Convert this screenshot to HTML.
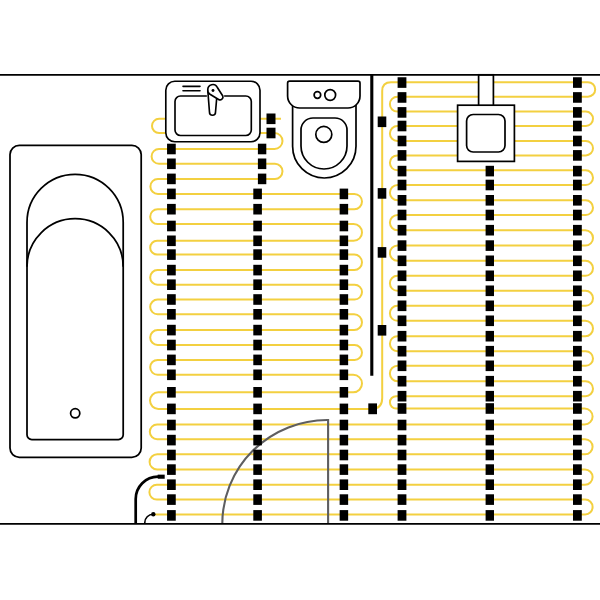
<!DOCTYPE html><html><head><meta charset="utf-8"><title>Floor heating plan</title><style>html,body{margin:0;padding:0;background:#fff}svg{display:block}</style></head><body><svg width="600" height="600" viewBox="0 0 600 600"><rect width="600" height="600" fill="#fff"/><g fill="none" stroke="#F3D040" stroke-width="2" stroke-linejoin="round"><path d="M281 118.8H159.1A7.1 7.1 0 0 0 159.1 133H274.5A8 8 0 0 1 274.5 149H159A7.4 7.4 0 0 0 159 163.8H274.95A7.55 7.55 0 0 1 274.95 178.9H157.9A7.5 7.5 0 0 0 157.9 193.9H354.35A7.65 7.65 0 0 1 354.35 209.2H157.65A7.45 7.45 0 0 0 157.65 224.1H353.65A8.35 8.35 0 0 1 353.65 240.8H157.1A6.9 6.9 0 0 0 157.1 254.6H354.25A7.75 7.75 0 0 1 354.25 270.1H157.5A7.3 7.3 0 0 0 157.5 284.7H354.6A7.4 7.4 0 0 1 354.6 299.5H157.6A7.4 7.4 0 0 0 157.6 314.3H354.1A7.9 7.9 0 0 1 354.1 330.1H157.65A7.45 7.45 0 0 0 157.65 345H354.55A7.45 7.45 0 0 1 354.55 359.9H157.65A7.45 7.45 0 0 0 157.65 374.8H353.25A8.75 8.75 0 0 1 353.25 392.3H158.3A8.3 8.3 0 0 0 158.3 408.9H372"/><path d="M372 408.8 Q382.2 408.8 382.2 398 V91 Q382.2 82.2 391 82.2H587.95A7.25 7.25 0 0 1 587.95 96.7H397.35A7.45 7.45 0 0 0 397.35 111.6H585.8A7.2 7.2 0 0 1 585.8 126H397.4A7.5 7.5 0 0 0 397.4 141H585.8A7.2 7.2 0 0 1 585.8 155.4H397.35A7.45 7.45 0 0 0 397.35 170.3H585.65A7.35 7.35 0 0 1 585.65 185H397.55A7.65 7.65 0 0 0 397.55 200.3H585.65A7.35 7.35 0 0 1 585.65 215H397.5A7.6 7.6 0 0 0 397.5 230.2H585.3A7.7 7.7 0 0 1 585.3 245.6H397.5A7.6 7.6 0 0 0 397.5 260.8H585.5A7.5 7.5 0 0 1 585.5 275.8H397.4A7.5 7.5 0 0 0 397.4 290.8H585.5A7.5 7.5 0 0 1 585.5 305.8H397.4A7.5 7.5 0 0 0 397.4 320.8H585.3A7.7 7.7 0 0 1 585.3 336.2H397.4A7.5 7.5 0 0 0 397.4 351.2H585.7A7.3 7.3 0 0 1 585.7 365.8H397.6A7.7 7.7 0 0 0 397.6 381.2H585.5A7.5 7.5 0 0 1 585.5 396.2H396.05A6.15 6.15 0 0 0 396.05 408.5H584.6A8 8 0 0 1 584.6 424.5H157.15A7.35 7.35 0 0 0 157.15 439.2H585.05A7.55 7.55 0 0 1 585.05 454.3H157.2A7.6 7.6 0 0 0 157.2 469.5H585A7.6 7.6 0 0 1 585 484.7H156.85A7.45 7.45 0 0 0 156.85 499.6H585.2A7.4 7.4 0 0 1 585.2 514.4H153.5"/></g><path d="M328.1 523.8V420H327A105.2 103.8 0 0 0 222.3 523.8" fill="none" stroke="#5e5e60" stroke-width="2.1"/><g fill="#000"><rect x="167.05" y="143.7" width="8.7" height="10.6"/><rect x="167.05" y="158.5" width="8.7" height="10.6"/><rect x="167.05" y="173.6" width="8.7" height="10.6"/><rect x="167.05" y="188.6" width="8.7" height="10.6"/><rect x="167.05" y="203.9" width="8.7" height="10.6"/><rect x="167.05" y="220.7" width="8.7" height="10.6"/><rect x="167.05" y="235.5" width="8.7" height="10.6"/><rect x="167.05" y="249.3" width="8.7" height="10.6"/><rect x="167.05" y="264.8" width="8.7" height="10.6"/><rect x="167.05" y="279.4" width="8.7" height="10.6"/><rect x="167.05" y="294.2" width="8.7" height="10.6"/><rect x="167.05" y="309" width="8.7" height="10.6"/><rect x="167.05" y="324.8" width="8.7" height="10.6"/><rect x="167.05" y="339.7" width="8.7" height="10.6"/><rect x="167.05" y="354.6" width="8.7" height="10.6"/><rect x="167.05" y="369.5" width="8.7" height="10.6"/><rect x="167.05" y="387" width="8.7" height="10.6"/><rect x="167.05" y="403.6" width="8.7" height="10.6"/><rect x="167.05" y="419.7" width="8.7" height="10.6"/><rect x="167.05" y="434.8" width="8.7" height="10.6"/><rect x="167.05" y="449.7" width="8.7" height="10.6"/><rect x="167.05" y="464.3" width="8.7" height="10.6"/><rect x="167.05" y="479.4" width="8.7" height="10.6"/><rect x="167.05" y="494.3" width="8.7" height="10.6"/><rect x="167.05" y="510.1" width="8.7" height="10.6"/><rect x="257.9" y="143.7" width="8.4" height="10.6"/><rect x="257.9" y="158.5" width="8.4" height="10.6"/><rect x="257.9" y="173.6" width="8.4" height="10.6"/><rect x="266.5" y="113.5" width="9" height="10.6"/><rect x="266.5" y="127.7" width="9" height="10.6"/><rect x="253.3" y="188.6" width="8.6" height="10.6"/><rect x="253.3" y="203.9" width="8.6" height="10.6"/><rect x="253.3" y="220.7" width="8.6" height="10.6"/><rect x="253.3" y="235.5" width="8.6" height="10.6"/><rect x="253.3" y="249.3" width="8.6" height="10.6"/><rect x="253.3" y="264.8" width="8.6" height="10.6"/><rect x="253.3" y="279.4" width="8.6" height="10.6"/><rect x="253.3" y="294.2" width="8.6" height="10.6"/><rect x="253.3" y="309" width="8.6" height="10.6"/><rect x="253.3" y="324.8" width="8.6" height="10.6"/><rect x="253.3" y="339.7" width="8.6" height="10.6"/><rect x="253.3" y="354.6" width="8.6" height="10.6"/><rect x="253.3" y="369.5" width="8.6" height="10.6"/><rect x="253.3" y="387" width="8.6" height="10.6"/><rect x="253.3" y="403.6" width="8.6" height="10.6"/><rect x="253.3" y="419.7" width="8.6" height="10.6"/><rect x="253.3" y="434.8" width="8.6" height="10.6"/><rect x="253.3" y="449.7" width="8.6" height="10.6"/><rect x="253.3" y="464.3" width="8.6" height="10.6"/><rect x="253.3" y="479.4" width="8.6" height="10.6"/><rect x="253.3" y="494.3" width="8.6" height="10.6"/><rect x="253.3" y="510.1" width="8.6" height="10.6"/><rect x="339.65" y="188.6" width="8.5" height="10.6"/><rect x="339.65" y="203.9" width="8.5" height="10.6"/><rect x="339.65" y="220.7" width="8.5" height="10.6"/><rect x="339.65" y="235.5" width="8.5" height="10.6"/><rect x="339.65" y="249.3" width="8.5" height="10.6"/><rect x="339.65" y="264.8" width="8.5" height="10.6"/><rect x="339.65" y="279.4" width="8.5" height="10.6"/><rect x="339.65" y="294.2" width="8.5" height="10.6"/><rect x="339.65" y="309" width="8.5" height="10.6"/><rect x="339.65" y="324.8" width="8.5" height="10.6"/><rect x="339.65" y="339.7" width="8.5" height="10.6"/><rect x="339.65" y="354.6" width="8.5" height="10.6"/><rect x="339.65" y="369.5" width="8.5" height="10.6"/><rect x="339.65" y="387" width="8.5" height="10.6"/><rect x="339.65" y="403.6" width="8.5" height="10.6"/><rect x="339.65" y="419.7" width="8.5" height="10.6"/><rect x="339.65" y="434.8" width="8.5" height="10.6"/><rect x="339.65" y="449.7" width="8.5" height="10.6"/><rect x="339.65" y="464.3" width="8.5" height="10.6"/><rect x="339.65" y="479.4" width="8.5" height="10.6"/><rect x="339.65" y="494.3" width="8.5" height="10.6"/><rect x="339.65" y="510.1" width="8.5" height="10.6"/><rect x="397.6" y="77.25" width="8.8" height="10.6"/><rect x="397.6" y="92.15" width="8.8" height="10.6"/><rect x="397.6" y="107.1" width="8.8" height="10.6"/><rect x="397.6" y="120.7" width="8.8" height="10.6"/><rect x="397.6" y="135.7" width="8.8" height="10.6"/><rect x="397.6" y="150.1" width="8.8" height="10.6"/><rect x="397.6" y="165.8" width="8.8" height="10.6"/><rect x="397.6" y="179.7" width="8.8" height="10.6"/><rect x="397.6" y="195" width="8.8" height="10.6"/><rect x="397.6" y="209.7" width="8.8" height="10.6"/><rect x="397.6" y="224.9" width="8.8" height="10.6"/><rect x="397.6" y="240.3" width="8.8" height="10.6"/><rect x="397.6" y="255.5" width="8.8" height="10.6"/><rect x="397.6" y="270.5" width="8.8" height="10.6"/><rect x="397.6" y="285.5" width="8.8" height="10.6"/><rect x="397.6" y="300.5" width="8.8" height="10.6"/><rect x="397.6" y="315.5" width="8.8" height="10.6"/><rect x="397.6" y="330.9" width="8.8" height="10.6"/><rect x="397.6" y="345.9" width="8.8" height="10.6"/><rect x="397.6" y="360.5" width="8.8" height="10.6"/><rect x="397.6" y="375.9" width="8.8" height="10.6"/><rect x="397.6" y="390.9" width="8.8" height="10.6"/><rect x="397.6" y="403.2" width="8.8" height="10.6"/><rect x="397.6" y="419.7" width="8.8" height="10.6"/><rect x="397.6" y="434.8" width="8.8" height="10.6"/><rect x="397.6" y="449.7" width="8.8" height="10.6"/><rect x="397.6" y="464.3" width="8.8" height="10.6"/><rect x="397.6" y="479.4" width="8.8" height="10.6"/><rect x="397.6" y="494.3" width="8.8" height="10.6"/><rect x="397.6" y="510.1" width="8.8" height="10.6"/><rect x="485.6" y="165.8" width="8.4" height="10.6"/><rect x="485.6" y="179.7" width="8.4" height="10.6"/><rect x="485.6" y="195" width="8.4" height="10.6"/><rect x="485.6" y="209.7" width="8.4" height="10.6"/><rect x="485.6" y="224.9" width="8.4" height="10.6"/><rect x="485.6" y="240.3" width="8.4" height="10.6"/><rect x="485.6" y="255.5" width="8.4" height="10.6"/><rect x="485.6" y="270.5" width="8.4" height="10.6"/><rect x="485.6" y="285.5" width="8.4" height="10.6"/><rect x="485.6" y="300.5" width="8.4" height="10.6"/><rect x="485.6" y="315.5" width="8.4" height="10.6"/><rect x="485.6" y="330.9" width="8.4" height="10.6"/><rect x="485.6" y="345.9" width="8.4" height="10.6"/><rect x="485.6" y="360.5" width="8.4" height="10.6"/><rect x="485.6" y="375.9" width="8.4" height="10.6"/><rect x="485.6" y="390.9" width="8.4" height="10.6"/><rect x="485.6" y="403.2" width="8.4" height="10.6"/><rect x="485.6" y="419.7" width="8.4" height="10.6"/><rect x="485.6" y="434.8" width="8.4" height="10.6"/><rect x="485.6" y="449.7" width="8.4" height="10.6"/><rect x="485.6" y="464.3" width="8.4" height="10.6"/><rect x="485.6" y="479.4" width="8.4" height="10.6"/><rect x="485.6" y="494.3" width="8.4" height="10.6"/><rect x="485.6" y="510.1" width="8.4" height="10.6"/><rect x="573" y="77.25" width="8.8" height="10.6"/><rect x="573" y="92.15" width="8.8" height="10.6"/><rect x="573" y="107.1" width="8.8" height="10.6"/><rect x="573" y="120.7" width="8.8" height="10.6"/><rect x="573" y="135.7" width="8.8" height="10.6"/><rect x="573" y="150.1" width="8.8" height="10.6"/><rect x="573" y="165.8" width="8.8" height="10.6"/><rect x="573" y="179.7" width="8.8" height="10.6"/><rect x="573" y="195" width="8.8" height="10.6"/><rect x="573" y="209.7" width="8.8" height="10.6"/><rect x="573" y="224.9" width="8.8" height="10.6"/><rect x="573" y="240.3" width="8.8" height="10.6"/><rect x="573" y="255.5" width="8.8" height="10.6"/><rect x="573" y="270.5" width="8.8" height="10.6"/><rect x="573" y="285.5" width="8.8" height="10.6"/><rect x="573" y="300.5" width="8.8" height="10.6"/><rect x="573" y="315.5" width="8.8" height="10.6"/><rect x="573" y="330.9" width="8.8" height="10.6"/><rect x="573" y="345.9" width="8.8" height="10.6"/><rect x="573" y="360.5" width="8.8" height="10.6"/><rect x="573" y="375.9" width="8.8" height="10.6"/><rect x="573" y="390.9" width="8.8" height="10.6"/><rect x="573" y="403.2" width="8.8" height="10.6"/><rect x="573" y="419.7" width="8.8" height="10.6"/><rect x="573" y="434.8" width="8.8" height="10.6"/><rect x="573" y="449.7" width="8.8" height="10.6"/><rect x="573" y="464.3" width="8.8" height="10.6"/><rect x="573" y="479.4" width="8.8" height="10.6"/><rect x="573" y="494.3" width="8.8" height="10.6"/><rect x="573" y="510.1" width="8.8" height="10.6"/><rect x="377.7" y="116.5" width="8.6" height="10.6"/><rect x="377.7" y="188.1" width="8.6" height="10.6"/><rect x="377.7" y="247.1" width="8.6" height="10.6"/><rect x="377.7" y="325" width="8.6" height="10.6"/><rect x="368.3" y="403.4" width="8.7" height="10.8"/></g><g stroke="#000" stroke-width="1.75" fill="#fff"><rect x="10" y="145.3" width="131.2" height="312" rx="9.3" ry="9.3"/><path d="M27 222.5A48 48 0 0 1 123.2 222.5V434.7a4.8 4.8 0 0 1 -4.8 4.8H31.8a4.8 4.8 0 0 1 -4.8 -4.8Z"/><path d="M27 266.8A48.1 48.1 0 0 1 123.2 266.8" fill="none"/><circle cx="75.2" cy="413.3" r="4.6"/></g><g stroke="#000" stroke-width="1.65" fill="#fff" stroke-linecap="round" stroke-linejoin="round"><rect x="165.8" y="81.2" width="94.2" height="60.6" rx="9" ry="9"/><path d="M206.3 96H180.5a5.5 5.5 0 0 0 -5.5 5.5V130a5.5 5.5 0 0 0 5.5 5.5H245.8a5.5 5.5 0 0 0 5.5 -5.5V101.5a5.5 5.5 0 0 0 -5.5 -5.5H224.7" fill="none"/><path d="M183 86.3H200M183 90.7H200" fill="none"/><path d="M207.8 90.5L209.5 112.2A3 3 0 0 0 215.5 112.2L216.8 97Z"/><path d="M207.8 89.5A5 5 0 0 1 217.2 87.2L222.8 96A2.9 2.9 0 0 1 218.6 99.5L210 94.3A5 5 0 0 1 207.8 89.5Z"/><circle cx="213" cy="90.5" r="1.45" fill="#000" stroke="none"/></g><g stroke="#000" stroke-width="1.7" fill="#fff" stroke-linejoin="round"><path d="M292.6 104V146.3A31.7 31.7 0 0 0 356 146.3V104Z"/><path d="M289.6 81.2H358a2 2 0 0 1 2 2V96a12 12 0 0 1 -12 12H299.6a12 12 0 0 1 -12 -12V83.2a2 2 0 0 1 2 -2Z"/><circle cx="317.4" cy="95" r="3.3"/><circle cx="330.2" cy="95" r="5.4"/><path d="M301 146V130a12 12 0 0 1 12 -12H335a12 12 0 0 1 12 12V146A23 23 0 0 1 301 146Z"/><circle cx="323.8" cy="134.4" r="8"/></g><g stroke="#000" stroke-width="1.7" fill="#fff"><rect x="478.6" y="74.8" width="14.8" height="32"/><rect x="457.6" y="105.2" width="56.8" height="56.2"/><rect x="466.6" y="114.5" width="38.4" height="37.5" rx="6.5" ry="6.5"/></g><g stroke="#000" fill="none"><path d="M0 74.8H600M0 523.9H600" stroke-width="1.8"/><path d="M371.8 74.8V375.7" stroke-width="3.1"/></g><g stroke="#000" fill="none"><path d="M135.7 523.8V499A22.3 22.3 0 0 1 158 476.7H160" stroke-width="2.7"/><path d="M157.7 476.7H164.7" stroke-width="4.1"/><path d="M144.8 523.8V522.5A8.2 8.2 0 0 1 153 514.3" stroke-width="1.6"/><circle cx="153.3" cy="514.3" r="2.2" fill="#000" stroke="none"/></g></svg></body></html>
